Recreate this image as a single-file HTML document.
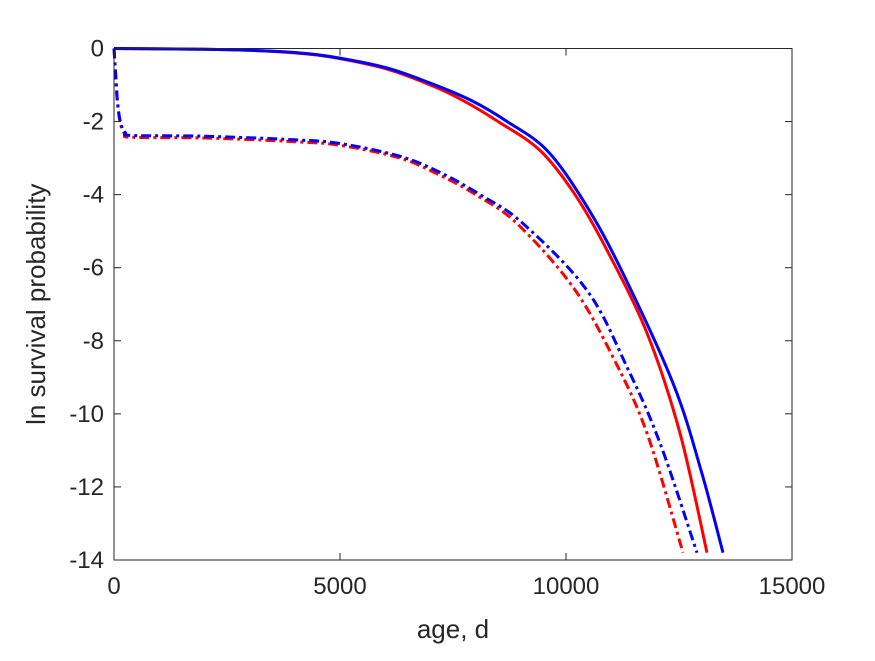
<!DOCTYPE html>
<html><head><meta charset="utf-8"><style>
body{margin:0;background:#fff}
svg text{font-family:"Liberation Sans",sans-serif;fill:#262626}
</style></head><body>
<svg width="875" height="656" id="chart"></svg>
<script>
const xTicks=[0,5000,10000,15000];
const yTicks=[0,-2,-4,-6,-8,-10,-12,-14];
const redSolidAge=[0,2000,3000,4000,4780,6000,7000,7720,8500,9425,10200,10907,11792,12522,13119];
const redSolidVal=[0,-0.02,-0.05,-0.12,-0.23,-0.55,-1.0,-1.42,-2.0,-2.79,-4.0,-5.52,-7.79,-10.53,-13.8];
const blueSolidAge=[0,2000,3000,4000,4780,6000,7000,7900,8700,9580,10400,11195,12367,13000,13473];
const blueSolidVal=[0,-0.02,-0.05,-0.11,-0.22,-0.52,-0.95,-1.42,-2.0,-2.79,-4.2,-5.99,-9.16,-11.6,-13.8];
const redDashAge=[0,30,80,150,250,400,2000,4000,5000,6330,7212,8000,8916,10155,11040,11792,12588];
const redDashVal=[0,-0.6,-1.5,-2.1,-2.35,-2.43,-2.45,-2.55,-2.65,-3.0,-3.47,-4.0,-4.79,-6.53,-8.45,-10.53,-13.8];
const blueDashAge=[0,30,80,150,250,400,2000,4000,5000,6330,7212,8100,9049,10465,11350,12080,12898];
const blueDashVal=[0,-0.6,-1.5,-2.05,-2.3,-2.38,-2.4,-2.5,-2.6,-2.95,-3.39,-4.0,-4.79,-6.62,-8.72,-10.8,-13.8];

const L=114,R=792,T=48.5,B=560;
const sx=v=>L+(v-0)/15000*(R-L);
const sy=v=>T+(0-v)/14*(B-T);
const svg=document.getElementById('chart');
const NS='http://www.w3.org/2000/svg';
function mk(tag,attrs,parent){const e=document.createElementNS(NS,tag);for(const k in attrs)e.setAttribute(k,attrs[k]);(parent||svg).appendChild(e);return e;}

function smoothPath(pts){
  let d='M'+pts[0][0].toFixed(1)+','+pts[0][1].toFixed(1);
  for(let i=0;i<pts.length-1;i++){
    const p0=pts[Math.max(0,i-1)],p1=pts[i],p2=pts[i+1],p3=pts[Math.min(pts.length-1,i+2)];
    const c1x=p1[0]+(p2[0]-p0[0])/6,c1y=p1[1]+(p2[1]-p0[1])/6;
    const c2x=p2[0]-(p3[0]-p1[0])/6,c2y=p2[1]-(p3[1]-p1[1])/6;
    d+=' C'+c1x.toFixed(1)+','+c1y.toFixed(1)+' '+c2x.toFixed(1)+','+c2y.toFixed(1)+' '+p2[0].toFixed(1)+','+p2[1].toFixed(1);
  }
  return d;
}
function series(ages,vals,color,dash,name){
  const pts=ages.map((a,i)=>[sx(a),sy(vals[i])]);
  const p=mk('path',{d:smoothPath(pts),fill:'none',stroke:color,'stroke-width':3,'stroke-linejoin':'round'});
  if(dash)p.setAttribute('stroke-dasharray',dash);
  
  
}
series(redDashAge,redDashVal,'#ff0000','10,4,3,4','red-dashdot-line');
series(blueDashAge,blueDashVal,'#0000ff','10,4,3,4','blue-dashdot-line');
series(redSolidAge,redSolidVal,'#ff0000',null,'red-solid-line');
series(blueSolidAge,blueSolidVal,'#0000ff',null,'blue-solid-line');

const box=mk('rect',{x:L,y:T,width:R-L,height:B-T,fill:'none',stroke:'#262626','stroke-width':1});



xTicks.forEach(t=>{
  const x=sx(t);
  mk('line',{x1:x,x2:x,y1:B,y2:B-7,stroke:'#262626'});
  mk('line',{x1:x,x2:x,y1:T,y2:T+7,stroke:'#262626'});
  const tx=mk('text',{x:x,y:B+34,'text-anchor':'middle','font-size':24});
  tx.textContent=t;
  
  
});
yTicks.forEach(t=>{
  const y=sy(t);
  mk('line',{x1:L,x2:L+7,y1:y,y2:y,stroke:'#262626'});
  mk('line',{x1:R,x2:R-7,y1:y,y2:y,stroke:'#262626'});
  const tx=mk('text',{x:L-10,y:y+8,'text-anchor':'end','font-size':24});
  tx.textContent=t;
  
  
});
const xl=mk('text',{x:(L+R)/2,y:638,'text-anchor':'middle','font-size':26});
xl.textContent='age, d';


const yl=mk('text',{x:0,y:0,'text-anchor':'middle','font-size':26,transform:'translate(45,'+((T+B)/2)+') rotate(-90)'});
yl.textContent='ln survival probability';


</script>
</body></html>
